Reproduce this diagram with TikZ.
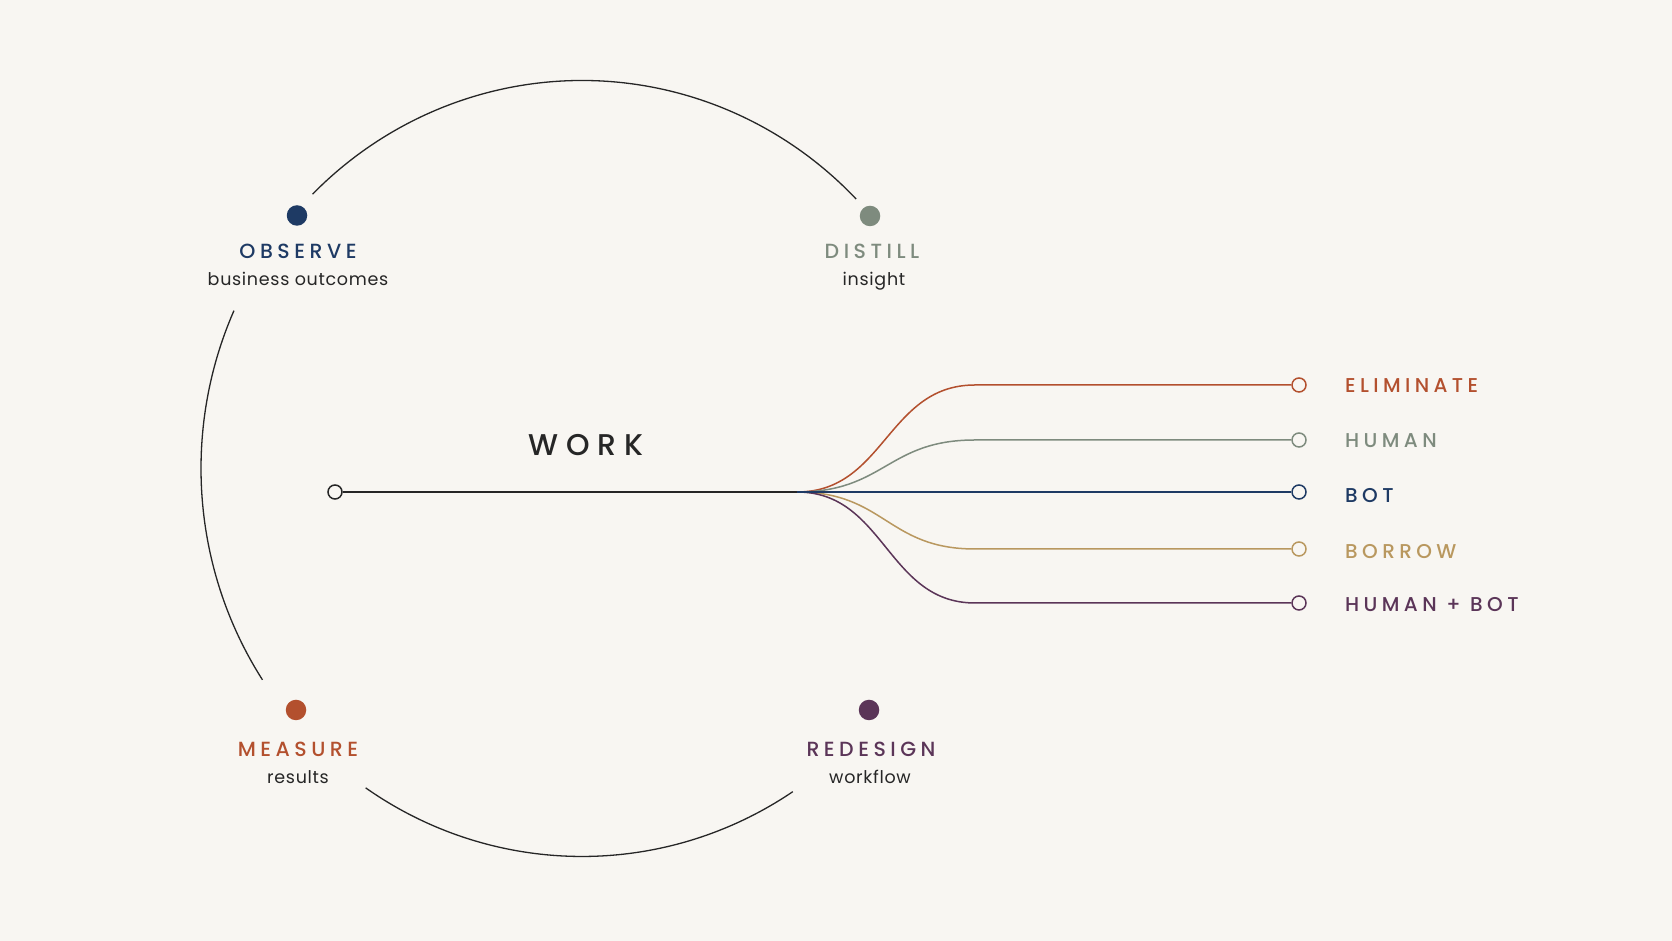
\documentclass[tikz,border=0pt]{standalone}
\usepackage{fontspec}
\setmainfont{Poppins}
\newfontfamily\capsfont[LetterSpace=22,UprightFont={* Medium}]{Poppins}
\newfontfamily\lowfont[LetterSpace=4]{Poppins}
\newfontfamily\workfont[LetterSpace=26,UprightFont={* Medium}]{Poppins}
\definecolor{bg}{HTML}{F8F6F2}
\definecolor{navy}{HTML}{1E3A64}
\definecolor{sage}{HTML}{7E8B7E}
\definecolor{rust}{HTML}{B3502E}
\definecolor{plum}{HTML}{5B3558}
\definecolor{gold}{HTML}{B9985F}
\definecolor{ink}{HTML}{262626}
\begin{document}
\begin{tikzpicture}[x=1pt,y=1pt,
  dot/.style={circle,inner sep=0pt,minimum size=20.5pt},
  ring/.style={circle,draw,line width=1.5pt,fill=bg,inner sep=0pt,minimum size=14pt},
  caplabel/.style={inner sep=0pt,anchor=base,font=\capsfont\fontsize{20.5}{24}\selectfont},
  sublabel/.style={inner sep=0pt,anchor=base,text=ink,font=\lowfont\fontsize{17.5}{21}\selectfont},
  optlabel/.style={inner sep=0pt,anchor=base west,font=\capsfont\fontsize{20}{24}\selectfont},
  arcline/.style={draw=ink,line width=1.3pt},
  branch/.style={line width=1.5pt}]
\fill[bg] (0,0) rectangle (1672,941);
\useasboundingbox (0,0) rectangle (1672,941);
\coordinate (c) at (582,472.5);
% cycle arcs
\draw[arcline] (c) ++(135:381pt and 388pt) arc[start angle=135,end angle=44,x radius=381pt,y radius=388pt];
\draw[arcline] (c) ++(156:381pt and 388pt) arc[start angle=156,end angle=213,x radius=381pt,y radius=388pt];
\draw[arcline] (c) ++(235.4:381pt and 388pt) arc[start angle=235.4,end angle=303.6,x radius=381pt,y radius=388pt];
% stages
\node[dot,fill=navy] (obs) at (297,725.5) {};
\node[caplabel,text=navy] (obsT) at (298,682) {OBSERVE};
\node[sublabel] (obsS) at (298,655) {business outcomes};
\node[dot,fill=sage] (dis) at (870,725) {};
\node[caplabel,text=sage] (disT) at (872,682) {DISTILL};
\node[sublabel] (disS) at (874,655) {insight};
\node[dot,fill=rust] (mea) at (296,231) {};
\node[caplabel,text=rust] (meaT) at (298,184.3) {MEASURE};
\node[sublabel] (meaS) at (298,157) {results};
\node[dot,fill=plum] (red) at (869,231) {};
\node[caplabel,text=plum] (redT) at (871,184.3) {REDESIGN};
\node[sublabel] (redS) at (870,157) {workflow};
% work line
\node[inner sep=0pt,anchor=base,text=ink,font=\workfont\fontsize{30}{34}\selectfont] (work) at (586,485.3) {WORK};
\node[ring,draw=ink] (start) at (335,449) {};
\coordinate (split) at (797,449);
\draw[branch,ink] (start) -- (split);
% outcome rings
\node[ring,draw=rust] (e1) at (1299,556) {};
\node[ring,draw=sage] (e2) at (1299,501) {};
\node[ring,draw=navy] (e3) at (1299,449) {};
\node[ring,draw=gold] (e4) at (1299,392) {};
\node[ring,draw=plum] (e5) at (1299,338) {};
\draw[branch,rust] (split) .. controls (885,449) and (887,556) .. (975,556) -- (e1);
\draw[branch,sage] (split) .. controls (885,449) and (887,501) .. (975,501) -- (e2);
\draw[branch,gold] (split) .. controls (885,449) and (887,392) .. (975,392) -- (e4);
\draw[branch,plum] (split) .. controls (885,449) and (887,338) .. (975,338) -- (e5);
\draw[branch,navy] (split) -- (e3);
% outcome labels
\node[optlabel,text=rust] (l1) at (1345,548.7) {ELIMINATE};
\node[optlabel,text=sage] (l2) at (1345,493.3) {HUMAN};
\node[optlabel,text=navy] (l3) at (1345,438.7) {BOT};
\node[optlabel,text=gold] (l4) at (1345,382.7) {BORROW};
\node[optlabel,text=plum] (l5) at (1345,329.3) {HUMAN + BOT};
\end{tikzpicture}
\end{document}
